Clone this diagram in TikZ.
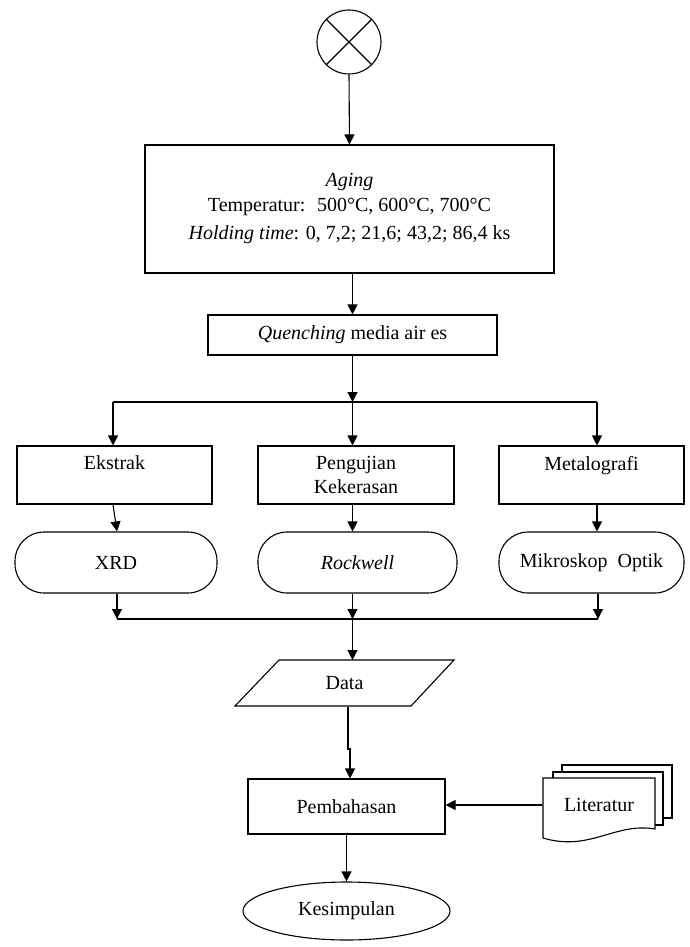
\documentclass[tikz,border=0pt]{standalone}
\usepackage{fontspec}
\setmainfont{Liberation Serif}
\usetikzlibrary{arrows.meta,shapes.geometric}
\begin{document}
\begin{tikzpicture}[x=1pt,y=-1pt, line width=1.1pt,
  font=\fontsize{20}{24}\selectfont,
  box/.style={draw, rectangle, inner sep=0pt, align=center},
  arr/.style={-{Triangle[length=10pt,width=10pt]}},
  term/.style={draw, rectangle, rounded corners=29pt, inner sep=0pt, align=center, minimum height=61pt},
  doc/.style={draw, fill=white, line join=miter}
]
\path[fill=white] (0,0) rectangle (689,947);
\useasboundingbox (0,0) rectangle (689,947);

% start connector
\node[draw,circle,minimum size=64pt,inner sep=0pt] (start) at (349,42) {};
\draw (start.north west)--(start.south east) (start.north east)--(start.south west);

\node[box,minimum width=409pt,minimum height=128pt] (aging) at (349.5,209)
  {\textit{Aging}\\[1pt] Temperatur:~ 500°C, 600°C, 700°C\\[4pt] \textit{Holding time}: 0, 7,2; 21,6; 43,2; 86,4 ks};
\draw[arr] (start.south) -- (aging.north);

\node[box,minimum width=289pt,minimum height=40pt] (quench) at (352.5,335) {\textit{Quenching} media air es};
\draw[arr] (aging.south -| quench.south) -- (quench.north);

% branch
\coordinate (bl) at (113,402);
\coordinate (bc) at (352.5,402);
\coordinate (br) at (597,402);
\draw[arr] (quench.south) -- (bc);
\draw (bl) -- (br);

\node[box,minimum width=195pt,minimum height=58pt] (ekstrak) at (114.5,475) {Ekstrak\\ \mbox{}};
\node[box,minimum width=196pt,minimum height=58pt] (peng) at (356,475) {Pengujian\\ Kekerasan};
\node[box,minimum width=185pt,minimum height=58pt] (meta) at (591.5,475) {Metalografi\\ \mbox{}};
\draw[arr] (bl) -- (bl |- ekstrak.north);
\draw[arr] (bc) -- (bc |- peng.north);
\draw[arr] (br) -- (br |- meta.north);

\node[term,minimum width=202pt] (xrd) at (116,562.5) {XRD};
\node[term,minimum width=199pt] (rock) at (357.5,562.5) {\textit{Rockwell}};
\node[term,minimum width=185pt] (mikro) at (591.5,562.5) {Mikroskop~ Optik};
\draw[arr] (bl |- ekstrak.south) -- ([xshift=1pt]xrd.north);
\draw[arr] (bc |- peng.south) -- (bc |- rock.north);
\draw[arr] (br |- meta.south) -- (br |- mikro.north);

% merge
\coordinate (cl) at (117,619);
\coordinate (cc) at (352.5,619);
\coordinate (cr) at (598,619);
\draw[arr] (cl |- xrd.south) -- (cl);
\draw[arr] (cc |- rock.south) -- (cc);
\draw[arr] (cr |- mikro.south) -- (cr);
\draw (cl) -- (cr);

% data parallelogram
\coordinate (datatop) at (352.5,660);
\draw (279,660) -- (454,660) -- (411,706) -- (235,706) -- cycle;
\node (data) at (344.5,683) {Data};
\draw[arr] (cc) -- (datatop);

\node[box,minimum width=197pt,minimum height=55pt] (pemb) at (346.5,806.5) {Pembahasan};
\coordinate (dtop) at (348,707);
\coordinate (dl) at (350,748);
\draw[line width=2.2pt] (dtop) -- (348,750);
\draw[arr] (dl) -- (dl |- pemb.north);

% Literatur multidocument
\draw[doc] (562,772) -- (562,765) -- (672,765) -- (672,818) -- (663,818);
\draw[doc] (553,778) -- (553,772) -- (663,772) -- (663,825) -- (655,825);
\draw[doc] (543,778) -- (655,778) -- (655,829) .. controls (615,822) and (590,852) .. (543,838) -- cycle;
\node[minimum width=112pt,inner sep=0pt] (lit) at (599,805) {Literatur};
\draw[arr] (lit.west) -- (lit.west -| pemb.east);

\node[draw,ellipse,minimum width=207pt,minimum height=58pt,inner sep=0pt] (kes) at (346.5,911) {Kesimpulan};
\draw[arr] (pemb.south) -- (kes.north);
\end{tikzpicture}
\end{document}
